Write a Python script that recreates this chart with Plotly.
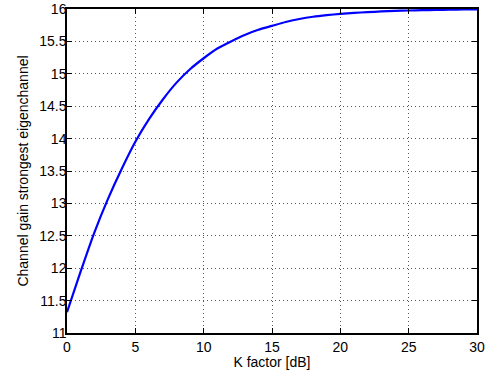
import plotly.graph_objects as go

k_factor_db = list(range(0, 31))
channel_gain = [11.32, 11.95, 12.55, 13.07, 13.53, 13.95, 14.30, 14.60, 14.86, 15.07,
                15.24, 15.39, 15.50, 15.60, 15.68, 15.74, 15.80, 15.845, 15.88, 15.905,
                15.925, 15.94, 15.952, 15.962, 15.97, 15.977, 15.982, 15.986, 15.99, 15.992, 15.994]

x_ticks = [0, 5, 10, 15, 20, 25, 30]
y_ticks = [11, 11.5, 12, 12.5, 13, 13.5, 14, 14.5, 15, 15.5, 16]
y_tick_labels = ["11", "11.5", "12", "12.5", "13", "13.5", "14", "14.5", "15", "15.5", "16"]

fig = go.Figure()
fig.add_trace(go.Scatter(x=k_factor_db, y=channel_gain, mode="lines",
                         line=dict(color="#0000ff", width=2.2, shape="spline", smoothing=0.6),
                         showlegend=False, hoverinfo="skip"))

font = dict(family="Liberation Sans, Arial, sans-serif", size=14, color="#000000")
axis_common = dict(showline=True, linecolor="black", linewidth=1.5, mirror="ticks",
                   ticks="inside", ticklen=5, tickcolor="black", tickwidth=1,
                   showgrid=True, gridcolor="#555555", griddash="1px,3px", gridwidth=1,
                   zeroline=False, tickfont=font, automargin=False)

fig.update_layout(
    width=495, height=370,
    margin=dict(l=67, r=18, t=9, b=37),
    paper_bgcolor="white", plot_bgcolor="white",
    font=font,
    xaxis=dict(range=[0, 30], tickvals=x_ticks, ticklabelstandoff=0,
               title=dict(text="K factor [dB]", font=dict(size=14), standoff=0), **axis_common),
    yaxis=dict(range=[11, 16], tickvals=y_ticks, ticktext=y_tick_labels, ticklabelstandoff=-4,
               title=dict(text="Channel gain strongest eigenchannel", font=dict(size=14), standoff=7), **axis_common),
)

fig.write_html("out.html", config={"displayModeBar": False},
               post_script="document.body.style.margin='0';document.body.style.overflow='hidden';")
